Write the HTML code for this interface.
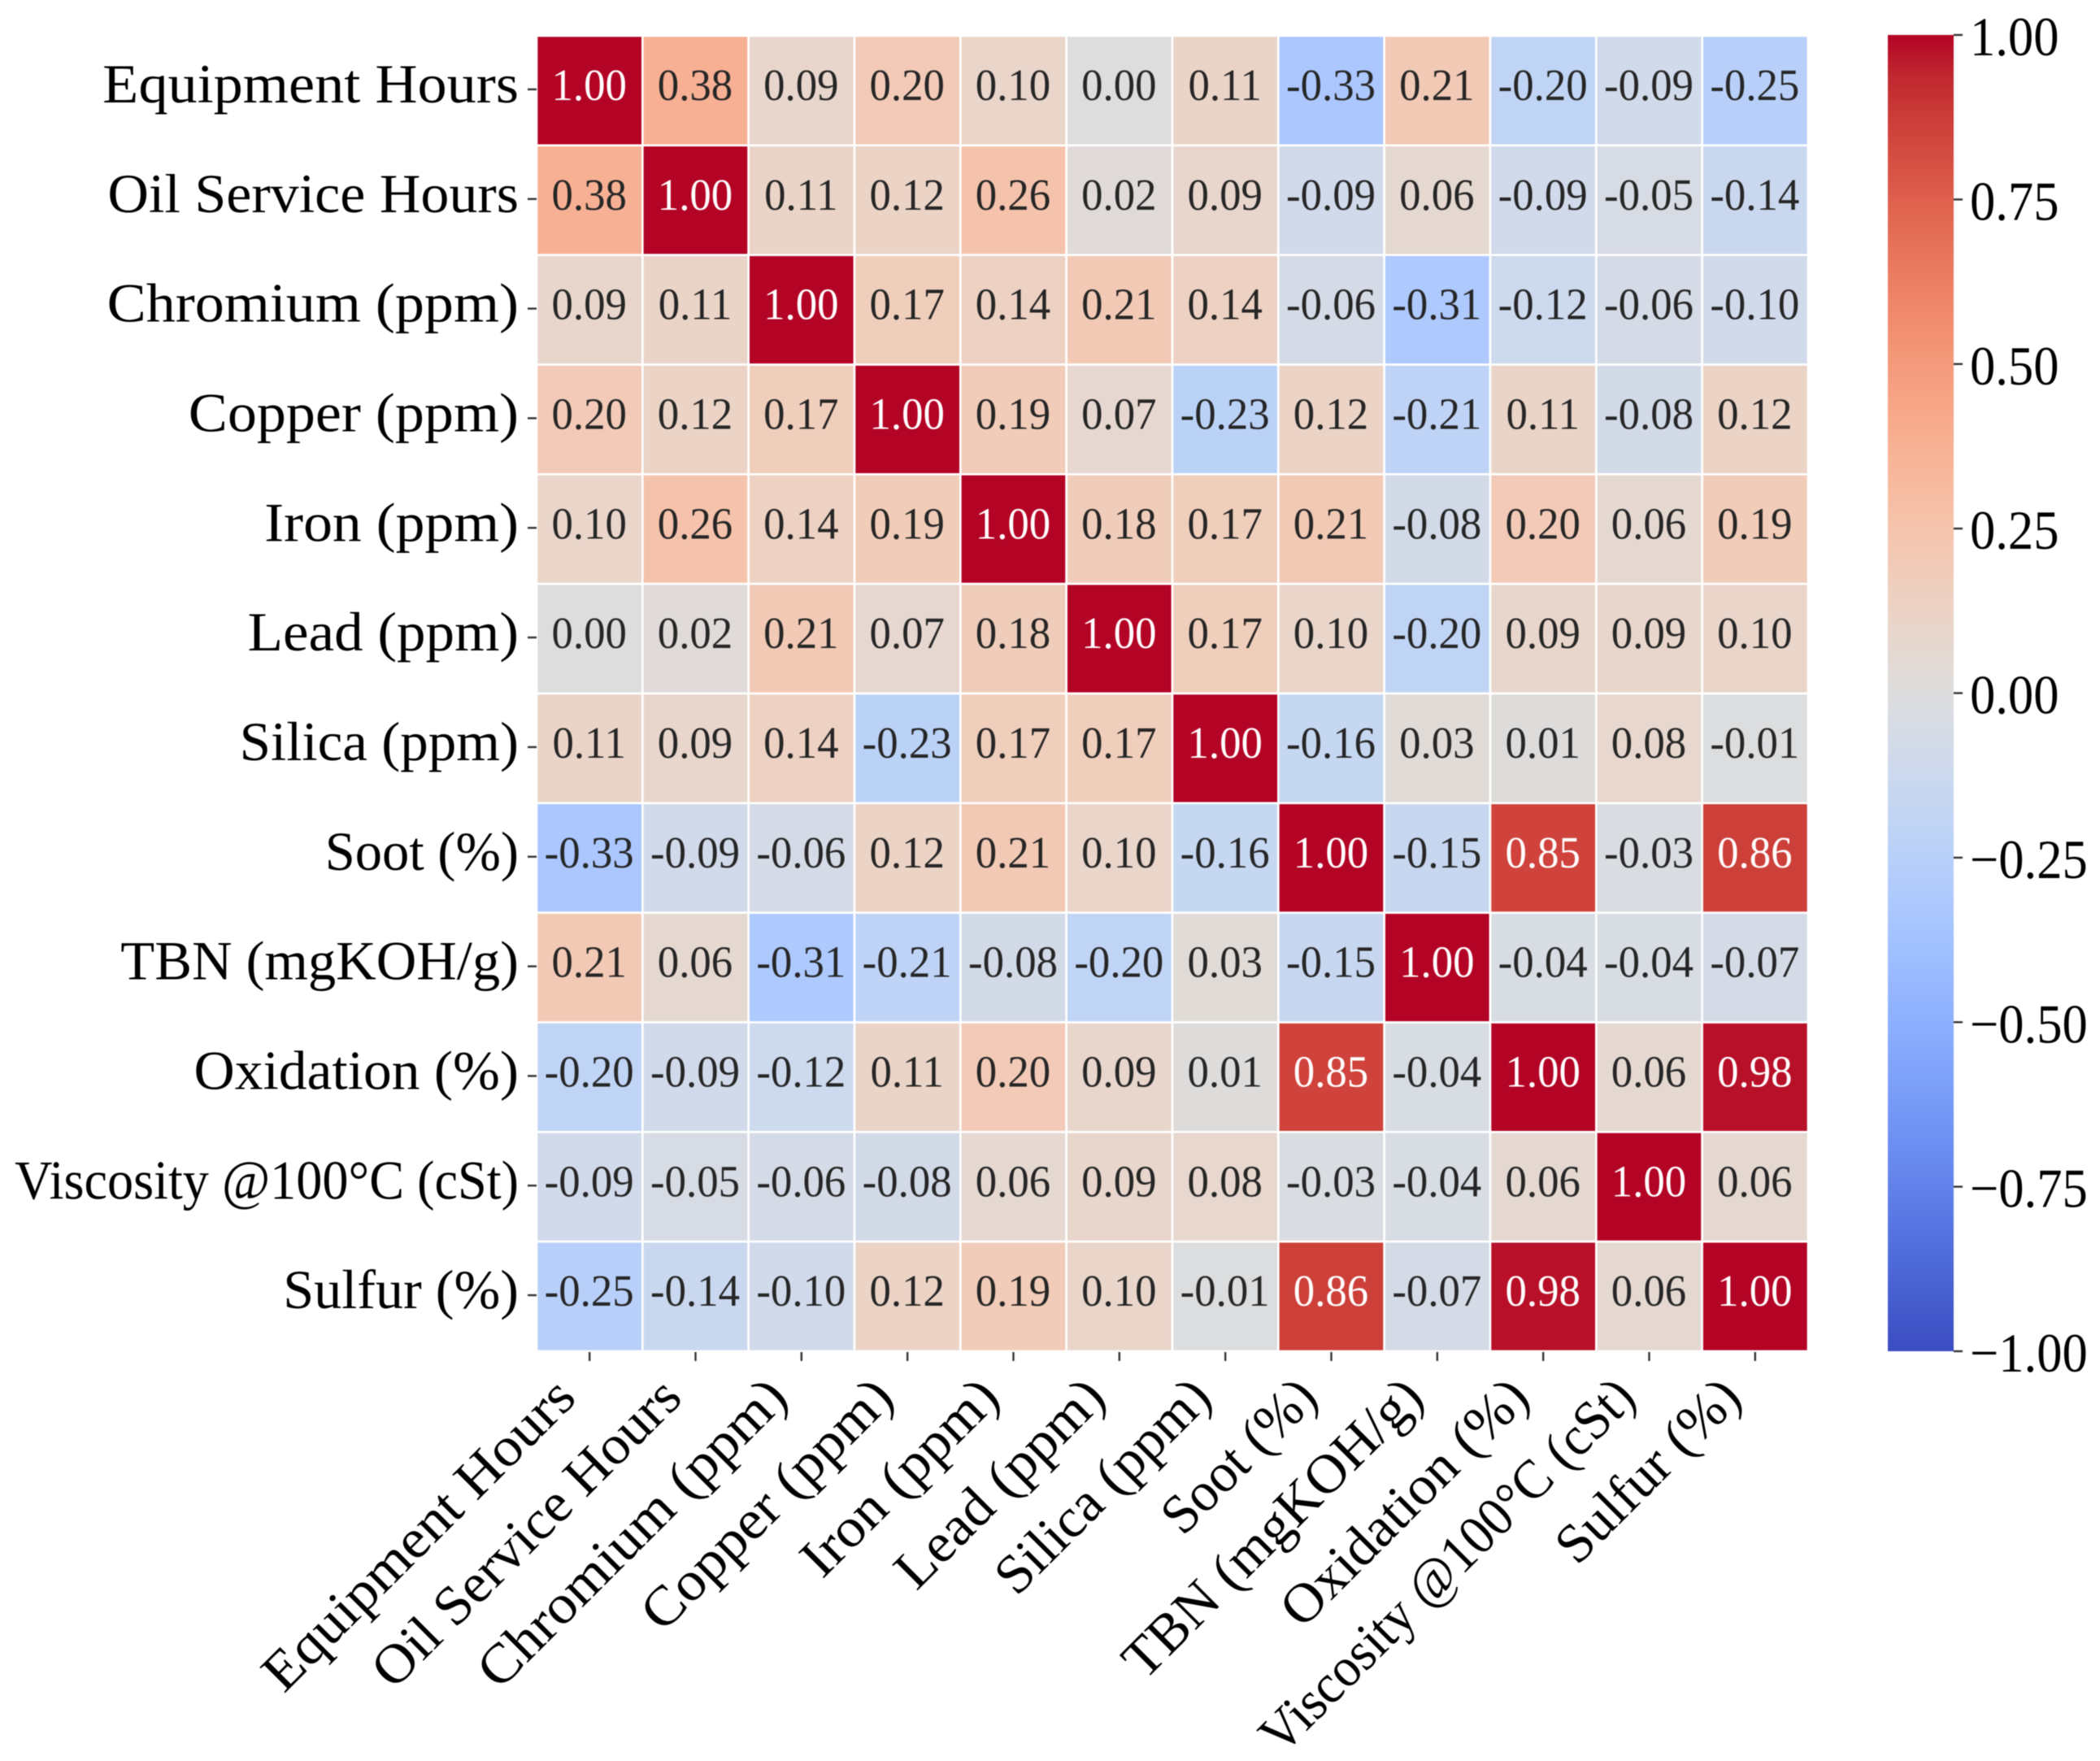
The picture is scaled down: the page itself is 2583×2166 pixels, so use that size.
<!DOCTYPE html>
<html>
<head>
<meta charset="utf-8">
<title>Correlation heatmap</title>
<style>
html,body{margin:0;padding:0;background:#fff;}
svg{display:block;filter:blur(0.6px);}
text{font-family:"Liberation Serif",serif;}
</style>
</head>
<body>
<svg id="chart" xmlns="http://www.w3.org/2000/svg" width="2583" height="2166" viewBox="0 0 2583 2166"></svg>
<script>
const categories = ["Equipment Hours","Oil Service Hours","Chromium (ppm)","Copper (ppm)","Iron (ppm)","Lead (ppm)","Silica (ppm)","Soot (%)","TBN (mgKOH/g)","Oxidation (%)","Viscosity @100°C (cSt)","Sulfur (%)"];
const correlations = [
[1.00,0.38,0.09,0.20,0.10,0.00,0.11,-0.33,0.21,-0.20,-0.09,-0.25],
[0.38,1.00,0.11,0.12,0.26,0.02,0.09,-0.09,0.06,-0.09,-0.05,-0.14],
[0.09,0.11,1.00,0.17,0.14,0.21,0.14,-0.06,-0.31,-0.12,-0.06,-0.10],
[0.20,0.12,0.17,1.00,0.19,0.07,-0.23,0.12,-0.21,0.11,-0.08,0.12],
[0.10,0.26,0.14,0.19,1.00,0.18,0.17,0.21,-0.08,0.20,0.06,0.19],
[0.00,0.02,0.21,0.07,0.18,1.00,0.17,0.10,-0.20,0.09,0.09,0.10],
[0.11,0.09,0.14,-0.23,0.17,0.17,1.00,-0.16,0.03,0.01,0.08,-0.01],
[-0.33,-0.09,-0.06,0.12,0.21,0.10,-0.16,1.00,-0.15,0.85,-0.03,0.86],
[0.21,0.06,-0.31,-0.21,-0.08,-0.20,0.03,-0.15,1.00,-0.04,-0.04,-0.07],
[-0.20,-0.09,-0.12,0.11,0.20,0.09,0.01,0.85,-0.04,1.00,0.06,0.98],
[-0.09,-0.05,-0.06,-0.08,0.06,0.09,0.08,-0.03,-0.04,0.06,1.00,0.06],
[-0.25,-0.14,-0.10,0.12,0.19,0.10,-0.01,0.86,-0.07,0.98,0.06,1.00]
];
const colorbarTicks = [1.00,0.75,0.50,0.25,0.00,-0.25,-0.50,-0.75,-1.00];
const coolwarm = [[59,76,192],[68,90,204],[77,104,215],[87,117,225],[98,130,234],[108,142,241],[119,154,247],[130,165,251],[141,176,254],[152,185,255],[163,194,255],[174,201,253],[184,208,249],[194,213,244],[204,217,238],[213,219,230],[221,221,221],[229,216,209],[236,211,197],[241,204,185],[245,196,173],[247,187,160],[247,177,148],[247,166,135],[244,154,123],[241,141,111],[236,127,99],[229,112,88],[222,96,77],[213,78,66],[203,60,56],[192,40,47],[180,4,38]];

const NS = "http://www.w3.org/2000/svg";
const svg = document.getElementById("chart");
const heatLeft = 660, heatRight = 2224, heatTop = 44, heatBottom = 1662;
const barLeft = 2322, barRight = 2403, barTop = 43, barBottom = 1662;
const vmin = -1, vmax = 1;
// horizontal stretch per label, compensating for the substitute serif's glyph widths
const labelStretch = {"Equipment Hours":1.063,"Oil Service Hours":1.03,"Chromium (ppm)":1.06,"Copper (ppm)":1.06,"Iron (ppm)":1.055,"Lead (ppm)":1.045,"Silica (ppm)":1.016,"Soot (%)":0.978,"TBN (mgKOH/g)":1.009,"Oxidation (%)":1.022,"Viscosity @100°C (cSt)":0.945,"Sulfur (%)":1.003};

function xScale(i){ return heatLeft + (heatRight - heatLeft) * i / categories.length; }
function yScale(i){ return heatTop + (heatBottom - heatTop) * i / categories.length; }
function barScale(v){ return barBottom - (barBottom - barTop) * (v - vmin) / (vmax - vmin); }
function rgbOf(v){
  const t = Math.max(0, Math.min(1, (v - vmin) / (vmax - vmin))) * (coolwarm.length - 1);
  const a = Math.floor(t), b = Math.min(a + 1, coolwarm.length - 1), f = t - a;
  return [0,1,2].map(function(k){ return coolwarm[a][k] + (coolwarm[b][k] - coolwarm[a][k]) * f; });
}
function cssOf(c){ return "rgb(" + c.map(function(n){ return Math.round(n); }).join(",") + ")"; }
function luminance(c){
  const l = c.map(function(n){ const s = n / 255; return s <= 0.03928 ? s / 12.92 : Math.pow((s + 0.055) / 1.055, 2.4); });
  return 0.2126 * l[0] + 0.7152 * l[1] + 0.0722 * l[2];
}
function make(tag, attrs){
  const el = document.createElementNS(NS, tag);
  for (const k in attrs) el.setAttribute(k, attrs[k]);
  return el;
}

// heatmap cells and annotations
categories.forEach(function(rowName, r){
  categories.forEach(function(colName, c){
    const v = correlations[r][c];
    const col = rgbOf(v);
    const x0 = xScale(c), x1 = xScale(c + 1), y0 = yScale(r), y1 = yScale(r + 1);
    const cell = make("rect", {x:x0, y:y0, width:x1 - x0, height:y1 - y0, fill:cssOf(col), stroke:"#fff", "stroke-width":2.6});
    
    
    svg.appendChild(cell);
    const label = make("text", {"text-anchor":"middle", "font-size":55,
      transform:"translate(" + ((x0 + x1) / 2 - 0.5) + "," + (y0 + 79) + ") scale(0.96,1)",
      fill: luminance(col) < 0.408 ? "#ffffff" : "#262626"});
    label.textContent = v.toFixed(2);
    
    
    svg.appendChild(label);
  });
});

// y axis
categories.forEach(function(name, i){
  const yc = (yScale(i) + yScale(i + 1)) / 2 - 1.5;
  const tick = make("line", {x1:649, x2:660, y1:yc, y2:yc, stroke:"#333", "stroke-width":2.4});
  
  
  svg.appendChild(tick);
  const label = make("text", {"text-anchor":"end", "font-size":68, fill:"#000",
    transform:"translate(638," + (yc + 16) + ") scale(" + labelStretch[name] + ",1)"});
  label.textContent = name;
  
  
  svg.appendChild(label);
});

// x axis
categories.forEach(function(name, i){
  const xc = (xScale(i) + xScale(i + 1)) / 2;
  const tick = make("line", {x1:xc, x2:xc, y1:heatBottom + 1, y2:heatBottom + 12, stroke:"#333", "stroke-width":2.4});
  
  
  svg.appendChild(tick);
  const label = make("text", {"text-anchor":"end", "font-size":68, fill:"#000",
    transform:"translate(" + (xc - 14) + ",1722) rotate(-45) scale(" + labelStretch[name] + ",1)"});
  label.textContent = name;
  
  
  svg.appendChild(label);
});

// colorbar
const defs = make("defs", {});
const grad = make("linearGradient", {id:"cbar-gradient", x1:0, y1:1, x2:0, y2:0});
coolwarm.forEach(function(c, i){
  grad.appendChild(make("stop", {offset:i / (coolwarm.length - 1), "stop-color":cssOf(c)}));
});
defs.appendChild(grad);
svg.appendChild(defs);
const bar = make("rect", {x:barLeft, y:barTop, width:barRight - barLeft, height:barBottom - barTop, fill:"url(#cbar-gradient)"});


svg.appendChild(bar);
colorbarTicks.forEach(function(v){
  const y = barScale(v);
  const tick = make("line", {x1:barRight, x2:barRight + 11, y1:y, y2:y, stroke:"#333", "stroke-width":2.4});
  
  
  svg.appendChild(tick);
  const label = make("text", {"text-anchor":"start", "font-size":68, fill:"#000",
    transform:"translate(2423," + (y + 25) + ") scale(0.92,1)"});
  label.textContent = (v < 0 ? "\u2212" : "") + Math.abs(v).toFixed(2);
  
  
  svg.appendChild(label);
});
</script>
</body>
</html>
